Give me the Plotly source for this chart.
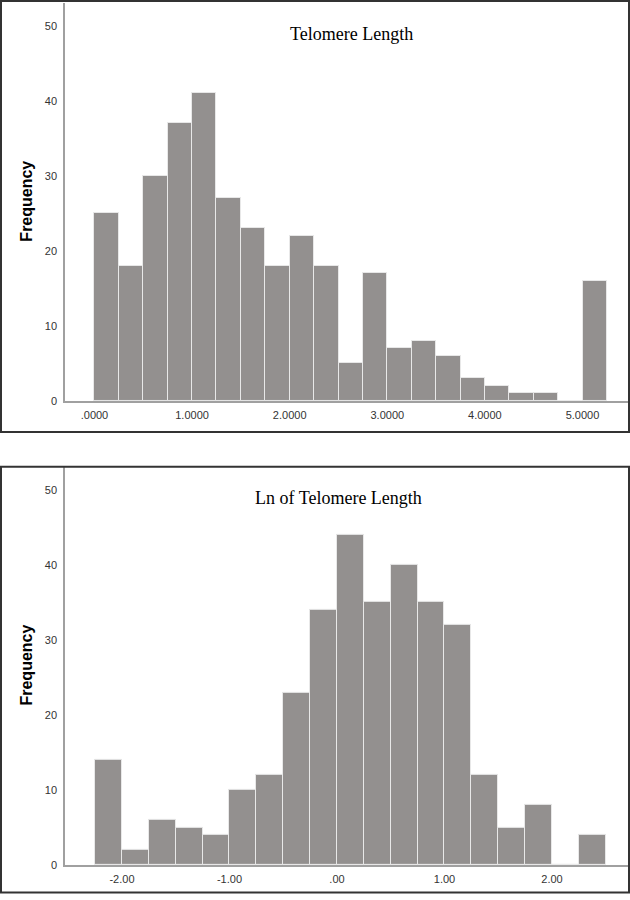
import plotly.graph_objects as go

# ---- data ----
top_bin_start = 0.0
top_bin_width = 0.25
top_counts = [25, 18, 30, 37, 41, 27, 23, 18, 22, 18, 5, 17, 7, 8, 6, 3, 2, 1, 1, 0, 16]
top_tickvals = [0, 1, 2, 3, 4, 5]
top_ticktext = [".0000", "1.0000", "2.0000", "3.0000", "4.0000", "5.0000"]

bot_bin_start = -2.25
bot_bin_width = 0.25
bot_counts = [14, 2, 6, 5, 4, 10, 12, 23, 34, 44, 35, 40, 35, 32, 12, 5, 8, 0, 4]
bot_tickvals = [-2, -1, 0, 1, 2]
bot_ticktext = ["-2.00", "-1.00", ".00", "1.00", "2.00"]

y_tickvals = [0, 10, 20, 30, 40, 50]

top_title = "Telomere Length"
bot_title = "Ln of Telomere Length"
y_title = "Frequency"

BAR = "rgb(147,144,143)"
EDGE = "rgb(232,232,232)"
AXIS = "rgb(160,160,160)"
W, H = 630, 900


def centers(start, width, n):
    return [start + width * (i + 0.5) for i in range(n)]


fig = go.Figure()
fig.add_trace(go.Bar(
    x=centers(top_bin_start, top_bin_width, len(top_counts)), y=top_counts,
    width=top_bin_width, marker=dict(color=BAR, line=dict(color=EDGE, width=1)),
    xaxis="x", yaxis="y", showlegend=False, hoverinfo="x+y"))
fig.add_trace(go.Bar(
    x=centers(bot_bin_start, bot_bin_width, len(bot_counts)), y=bot_counts,
    width=bot_bin_width, marker=dict(color=BAR, line=dict(color=EDGE, width=1)),
    xaxis="x2", yaxis="y2", showlegend=False, hoverinfo="x+y"))

tickfont = dict(family="Liberation Sans, Arial, sans-serif", size=11, color="#333333")
common_x = dict(showgrid=False, zeroline=False, showline=True, linecolor=AXIS, linewidth=1.5,
                ticks="", tickfont=tickfont, ticklabelstandoff=3, fixedrange=True)
common_y = dict(showgrid=False, zeroline=False, showline=True, linecolor=AXIS, linewidth=1.5,
                ticks="", tickfont=tickfont, tickvals=y_tickvals, ticklabelstandoff=4,
                fixedrange=True)

x_dom = [65 / W, 628 / W]
fig.update_layout(
    width=W, height=H, margin=dict(l=0, r=0, t=0, b=0),
    paper_bgcolor="white", plot_bgcolor="white", bargap=0,
    xaxis=dict(common_x, domain=x_dom, range=[-0.302, 5.466], anchor="y",
               tickvals=top_tickvals, ticktext=top_ticktext),
    yaxis=dict(common_y, domain=[1 - 403.5 / H, 1 - 3 / H], range=[0, (403.5 - 3) / 7.55],
               anchor="x"),
    xaxis2=dict(common_x, domain=x_dom, range=[-2.530, 2.707], anchor="y2",
                tickvals=bot_tickvals, ticktext=bot_ticktext),
    yaxis2=dict(common_y, domain=[1 - 871 / H, 1 - 470 / H], range=[0, (871 - 470) / 7.56],
                anchor="x2"),
)

title_font = dict(family="Liberation Serif, Times New Roman, serif", size=18, color="black")
ytitle_font = dict(family="Liberation Sans, Arial, sans-serif", size=16, color="black")
fig.add_annotation(text=top_title, x=351 / W, y=1 - 34 / H, xref="paper", yref="paper",
                   showarrow=False, font=title_font, xanchor="center", yanchor="middle")
fig.add_annotation(text=bot_title, x=338.5 / W, y=1 - 501 / H, xref="paper", yref="paper",
                   showarrow=False, font=title_font, xanchor="center", yanchor="middle")
fig.add_annotation(text="<b>" + y_title + "</b>", x=27 / W, y=1 - 203 / H, xref="paper",
                   yref="paper", showarrow=False, font=ytitle_font, textangle=-90,
                   xanchor="center", yanchor="middle")
fig.add_annotation(text="<b>" + y_title + "</b>", x=27 / W, y=1 - 670 / H, xref="paper",
                   yref="paper", showarrow=False, font=ytitle_font, textangle=-90,
                   xanchor="center", yanchor="middle")

# panel borders
border = dict(color="#333333", width=2)
fig.add_shape(type="rect", xref="paper", yref="paper", x0=1 / W, x1=629 / W,
              y0=1 - 435 / H, y1=1 - 1 / H, line=border, fillcolor="rgba(0,0,0,0)", layer="above")
fig.add_shape(type="rect", xref="paper", yref="paper", x0=1 / W, x1=629 / W,
              y0=1 - 898.5 / H, y1=1 - 470 / H, line=border, fillcolor="rgba(0,0,0,0)", layer="above")

fig.write_html(
    "out.html",
    config={"displayModeBar": False},
    post_script="document.body.style.margin='0';document.body.style.padding='0';"
                "document.documentElement.style.overflow='hidden';",
)
